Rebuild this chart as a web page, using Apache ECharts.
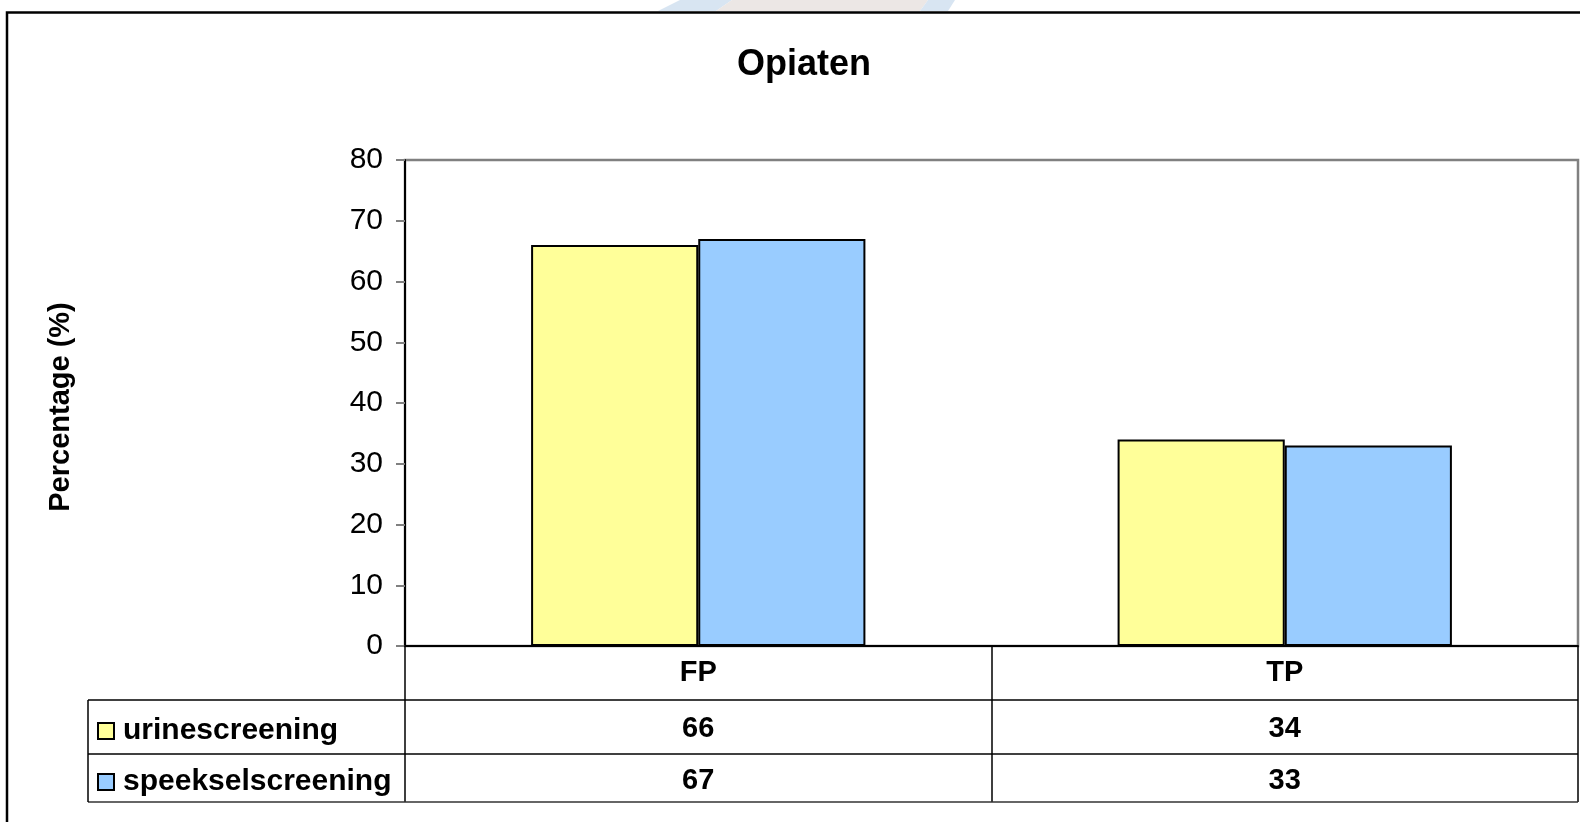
<!DOCTYPE html>
<html>
<head>
<meta charset="utf-8">
<title>Opiaten</title>
<script src="https://cdn.jsdelivr.net/npm/echarts@6/dist/echarts.min.js"></script>
<style>
  html, body { margin: 0; padding: 0; background: #ffffff; }
  #chart { width: 1580px; height: 822px; }
</style>
</head>
<body>
<div id="chart"></div>
<script>
// Categories and screening results (percentages)
const categories = ['FP', 'TP'];
const urinescreening = [66, 34];
const speekselscreening = [67, 33];
const seriesNames = ['urinescreening', 'speekselscreening'];
const yTicks = { min: 0, max: 80, interval: 10 };

const FONT = '"Liberation Sans", Arial, sans-serif';

const chart = echarts.init(document.getElementById('chart'), null, { renderer: 'canvas' });

// Data table lines below the plot
const tableLine = (x1, y1, x2, y2, color) => ({
  type: 'line',
  shape: { x1, y1, x2, y2 },
  style: { stroke: color || '#000000', lineWidth: 1.5 },
  z: 10
});

const option = {
  backgroundColor: '#ffffff',
  animation: false,
  title: {
    text: 'Opiaten',
    left: 804,
    top: 47,
    textAlign: 'center',
    padding: 0,
    textStyle: { fontFamily: FONT, fontSize: 36, fontWeight: 'bold', color: '#000000' }
  },
  legend: {
    orient: 'vertical',
    left: 97,
    top: 716,
    padding: 0,
    itemGap: 21,
    itemWidth: 16,
    itemHeight: 16,
    icon: 'rect',
    data: seriesNames,
    textStyle: { fontFamily: FONT, fontSize: 30, fontWeight: 'bold', color: '#000000', lineHeight: 20, padding: [0, 0, 0, 4] }
  },
  grid: {
    left: 405,
    top: 160,
    right: 2,
    bottom: 176,
    show: true,
    borderColor: '#808080',
    borderWidth: 2.5,
    backgroundColor: '#ffffff'
  },
  xAxis: [
    {
      type: 'category',
      data: categories,
      axisLine: { lineStyle: { color: '#000000', width: 2 } },
      axisTick: { show: true, length: 156, lineStyle: { color: '#000000', width: 1.5 } },
      axisLabel: {
        margin: 27, verticalAlign: 'middle',
        fontFamily: FONT, fontSize: 29, fontWeight: 'bold', color: '#000000'
      },
      z: 5
    },
    {
      type: 'category',
      data: categories,
      position: 'bottom',
      offset: 54,
      axisLine: { show: false },
      axisTick: { show: false },
      axisLabel: {
        margin: 29, verticalAlign: 'middle',
        fontFamily: FONT, fontSize: 29, fontWeight: 'bold', color: '#000000',
        formatter: (v, i) => String(urinescreening[i])
      }
    },
    {
      type: 'category',
      data: categories,
      position: 'bottom',
      offset: 108,
      axisLine: { show: false },
      axisTick: { show: false },
      axisLabel: {
        margin: 27, verticalAlign: 'middle',
        fontFamily: FONT, fontSize: 29, fontWeight: 'bold', color: '#000000',
        formatter: (v, i) => String(speekselscreening[i])
      }
    }
  ],
  yAxis: {
    type: 'value',
    min: yTicks.min,
    max: yTicks.max,
    interval: yTicks.interval,
    name: 'Percentage (%)',
    nameLocation: 'middle',
    nameRotate: 90,
    nameGap: 330,
    nameTextStyle: { fontFamily: FONT, fontSize: 29, fontWeight: 'bold', color: '#000000', padding: [0, 8, 0, 0] },
    axisLine: { show: true, lineStyle: { color: '#000000', width: 2 } },
    axisTick: { show: true, length: 9, lineStyle: { color: '#808080', width: 2 } },
    splitLine: { show: false },
    axisLabel: { margin: 22, fontFamily: FONT, fontSize: 30, color: '#000000' }
  },
  series: [
    {
      name: seriesNames[0],
      type: 'bar',
      data: urinescreening,
      barGap: '0%',
      barCategoryGap: '43%',
      itemStyle: { color: '#FFFF99', borderColor: '#000000', borderWidth: 2 }
    },
    {
      name: seriesNames[1],
      type: 'bar',
      data: speekselscreening,
      itemStyle: { color: '#99CCFF', borderColor: '#000000', borderWidth: 2 }
    }
  ],
  graphic: [
    // faint banner shapes above the frame
    { type: 'polygon', shape: { points: [[658, 11], [680, 0], [732, 0], [716, 11]] }, style: { fill: '#d8e5f2' }, z: 0 },
    { type: 'polygon', shape: { points: [[716, 11], [732, 0], [928, 0], [920, 11]] }, style: { fill: '#ece7e5' }, z: 0 },
    { type: 'polygon', shape: { points: [[920, 11], [928, 0], [955, 0], [948, 11]] }, style: { fill: '#d8e5f2' }, z: 0 },
    // outer frame
    { type: 'rect', shape: { x: 7, y: 12.5, width: 1600, height: 830 }, style: { fill: null, stroke: '#000000', lineWidth: 2.5 }, z: 1 },
    // data table rows
    tableLine(88, 700, 1578, 700),
    tableLine(88, 754, 1578, 754),
    tableLine(88, 802, 1578, 802, '#333333'),
    tableLine(88, 700, 88, 802)
  ]
};

chart.setOption(option);
</script>
</body>
</html>
